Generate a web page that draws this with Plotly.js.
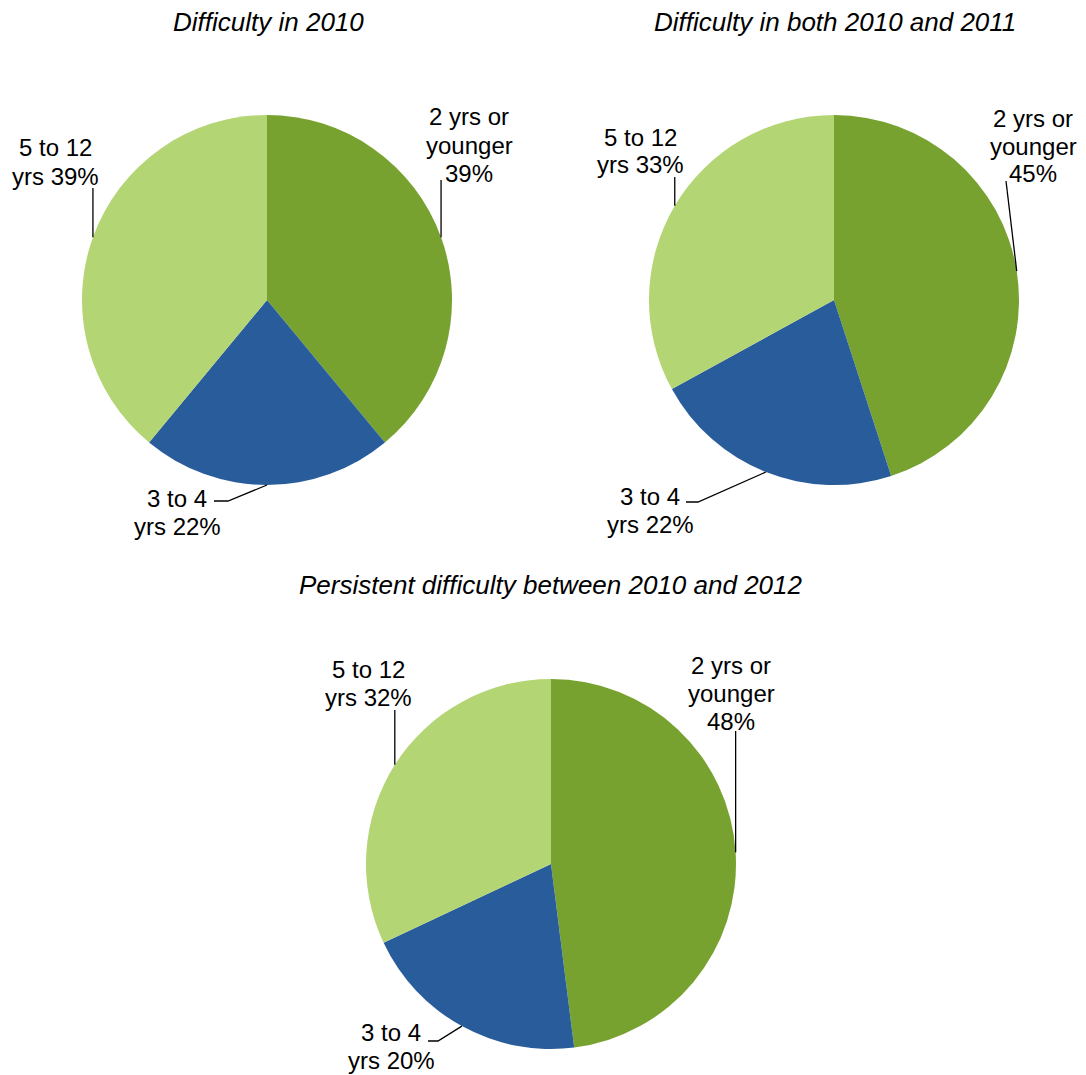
<!DOCTYPE html>
<html>
<head>
<meta charset="utf-8">
<script src="https://cdn.plot.ly/plotly-3.0.1.min.js"></script>
<style>
  body { margin: 0; background: #fff; }
</style>
</head>
<body>
<div id="chart" style="width:1086px;height:1075px"></div>
<script>
// data
const ageGroups = ['2 yrs or younger', '3 to 4 yrs', '5 to 12 yrs']
const pieTitles = ['Difficulty in 2010', 'Difficulty in both 2010 and 2011', 'Persistent difficulty between 2010 and 2012']
const share2010 = [39, 22, 39]
const share2010and2011 = [45, 22, 33]
const sharePersistent = [48, 20, 32]
// how each category label wraps, the percent goes on the last line
const labelWraps = [['2 yrs or', 'younger', ''], ['3 to 4', 'yrs '], ['5 to 12', 'yrs ']]

const sliceColors = ['#78a22f', '#285c9a', '#b3d574']
const W = 1086, H = 1075, R = 185
const font = 'Liberation Sans, Arial, sans-serif'

// pie placement in pixels
const pies = [
  { values: share2010, cx: 267, cy: 300, tx: 268, ty: 22,
    // label first-line centre and leader bend points (null x = straight up from anchor)
    labels: [
      { x: 469, y: 117, pts: [[null, 180]] },
      { x: 177, y: 498, pts: [[228, 501], [214, 501]] },
      { x: 55, y: 148, pts: [[null, 188]] }
    ] },
  { values: share2010and2011, cx: 834, cy: 300, tx: 835, ty: 22,
    labels: [
      { x: 1033, y: 118, pts: [[1006, 181]] },
      { x: 650, y: 496, pts: [[698, 502], [686, 502]] },
      { x: 640, y: 137, pts: [[null, 177]] }
    ] },
  { values: sharePersistent, cx: 551, cy: 864, tx: 551, ty: 585,
    labels: [
      { x: 731, y: 665, pts: [[null, 731]] },
      { x: 391, y: 1032, pts: [[438, 1041], [428, 1041]] },
      { x: 368, y: 669, pts: [[null, 710]] }
    ] }
]

const px = x => x / W
const py = y => 1 - y / H
const lineGap = 28

var data = []
var annotations = []
var shapes = []

pies.forEach((p, i) => {
  data.push({
    type: 'pie',
    values: p.values,
    labels: ageGroups,
    sort: false,
    direction: 'clockwise',
    rotation: 0,
    textinfo: 'none',
    hoverinfo: 'label+percent',
    marker: { colors: sliceColors, line: { width: 0 } },
    domain: { x: [px(p.cx - R), px(p.cx + R)], y: [py(p.cy + R), py(p.cy - R)] },
    showlegend: false
  })

  annotations.push({
    text: pieTitles[i], xref: 'paper', yref: 'paper',
    x: px(p.tx), y: py(p.ty), xanchor: 'center', yanchor: 'middle', showarrow: false,
    font: { family: font, size: 26, color: '#000', style: 'italic' }
  })

  const total = p.values.reduce((a, b) => a + b, 0)
  let cum = 0
  p.values.forEach((v, k) => {
    // anchor at the middle of the slice edge
    const ang = 2 * Math.PI * (cum + v / 2) / total
    cum += v
    const ax = p.cx + R * Math.sin(ang)
    const ay = p.cy - R * Math.cos(ang)
    const lab = p.labels[k]

    let path = 'M ' + px(ax) + ' ' + py(ay)
    lab.pts.forEach(pt => {
      const x = pt[0] === null ? ax : pt[0]
      path += ' L ' + px(x) + ' ' + py(pt[1])
    })
    shapes.push({ type: 'path', xref: 'paper', yref: 'paper', path: path,
      line: { color: '#000', width: 1.3 } })

    const lines = labelWraps[k].slice()
    lines[lines.length - 1] += v + '%'
    lines.forEach((t, j) => {
      annotations.push({
        text: t, xref: 'paper', yref: 'paper',
        x: px(lab.x), y: py(lab.y + j * lineGap), xanchor: 'center', yanchor: 'middle',
        showarrow: false,
        font: { family: font, size: 24, color: '#000' }
      })
    })
  })
})

var layout = {
  width: W,
  height: H,
  margin: { l: 0, r: 0, t: 0, b: 0 },
  paper_bgcolor: '#fff',
  annotations: annotations,
  shapes: shapes
}

Plotly.newPlot('chart', data, layout, { displayModeBar: false, staticPlot: true })
</script>
</body>
</html>
